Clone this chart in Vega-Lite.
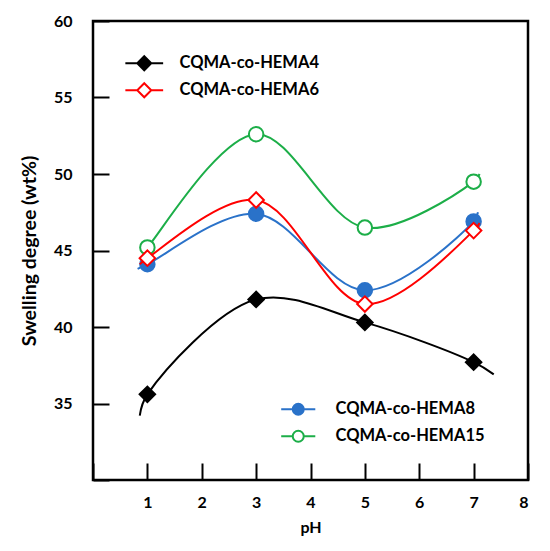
{
  "$schema": "https://vega.github.io/schema/vega-lite/v6.json",
  "width": 435,
  "height": 459,
  "autosize": {"type": "none"},
  "padding": {"left": 93, "top": 21, "right": 22, "bottom": 71},
  "background": "white",
  "datasets": {
    "measured": [
      {"series": "CQMA-co-HEMA4", "pH": 1, "swelling": 35.6},
      {"series": "CQMA-co-HEMA4", "pH": 3, "swelling": 41.8},
      {"series": "CQMA-co-HEMA4", "pH": 5, "swelling": 40.3},
      {"series": "CQMA-co-HEMA4", "pH": 7, "swelling": 37.7},
      {"series": "CQMA-co-HEMA6", "pH": 1, "swelling": 44.5},
      {"series": "CQMA-co-HEMA6", "pH": 3, "swelling": 48.3},
      {"series": "CQMA-co-HEMA6", "pH": 5, "swelling": 41.5},
      {"series": "CQMA-co-HEMA6", "pH": 7, "swelling": 46.3},
      {"series": "CQMA-co-HEMA8", "pH": 1, "swelling": 44.1},
      {"series": "CQMA-co-HEMA8", "pH": 3, "swelling": 47.4},
      {"series": "CQMA-co-HEMA8", "pH": 5, "swelling": 42.4},
      {"series": "CQMA-co-HEMA8", "pH": 7, "swelling": 46.9},
      {"series": "CQMA-co-HEMA15", "pH": 1, "swelling": 45.2},
      {"series": "CQMA-co-HEMA15", "pH": 3, "swelling": 52.6},
      {"series": "CQMA-co-HEMA15", "pH": 5, "swelling": 46.5},
      {"series": "CQMA-co-HEMA15", "pH": 7, "swelling": 49.5}
    ],
    "curve": [
      {"series": "CQMA-co-HEMA4", "pH": 0.86, "swelling": 34.2},
      {"series": "CQMA-co-HEMA4", "pH": 1, "swelling": 35.6},
      {"series": "CQMA-co-HEMA4", "pH": 3, "swelling": 41.8},
      {"series": "CQMA-co-HEMA4", "pH": 5, "swelling": 40.3},
      {"series": "CQMA-co-HEMA4", "pH": 7, "swelling": 37.7},
      {"series": "CQMA-co-HEMA4", "pH": 7.37, "swelling": 36.9},
      {"series": "CQMA-co-HEMA6", "pH": 0.86, "swelling": 44.1},
      {"series": "CQMA-co-HEMA6", "pH": 1, "swelling": 44.5},
      {"series": "CQMA-co-HEMA6", "pH": 3, "swelling": 48.3},
      {"series": "CQMA-co-HEMA6", "pH": 5, "swelling": 41.5},
      {"series": "CQMA-co-HEMA6", "pH": 7, "swelling": 46.3},
      {"series": "CQMA-co-HEMA6", "pH": 7.11, "swelling": 46.8},
      {"series": "CQMA-co-HEMA8", "pH": 0.82, "swelling": 43.8},
      {"series": "CQMA-co-HEMA8", "pH": 1, "swelling": 44.1},
      {"series": "CQMA-co-HEMA8", "pH": 3, "swelling": 47.4},
      {"series": "CQMA-co-HEMA8", "pH": 5, "swelling": 42.4},
      {"series": "CQMA-co-HEMA8", "pH": 7, "swelling": 46.9},
      {"series": "CQMA-co-HEMA8", "pH": 7.08, "swelling": 47.5},
      {"series": "CQMA-co-HEMA15", "pH": 0.92, "swelling": 44.9},
      {"series": "CQMA-co-HEMA15", "pH": 1, "swelling": 45.2},
      {"series": "CQMA-co-HEMA15", "pH": 3, "swelling": 52.6},
      {"series": "CQMA-co-HEMA15", "pH": 5, "swelling": 46.5},
      {"series": "CQMA-co-HEMA15", "pH": 7, "swelling": 49.5},
      {"series": "CQMA-co-HEMA15", "pH": 7.11, "swelling": 50.0}
    ]
  },
  "config": {
    "view": {"stroke": "black", "strokeWidth": 2.5},
    "axis": {
      "grid": false,
      "domain": false,
      "labelFont": "Lato",
      "labelFontWeight": "bold",
      "labelFontSize": 16,
      "labelColor": "black",
      "titleFont": "Lato",
      "titleFontWeight": "bold",
      "titleColor": "black",
      "tickColor": "black",
      "tickWidth": 2
    },
    "legend": {
      "labelFont": "Lato",
      "labelFontWeight": "bold",
      "labelFontSize": 16.5,
      "labelColor": "black",
      "padding": 0,
      "symbolStrokeWidth": 2,
      "symbolOpacity": 1
    }
  },
  "encoding": {
    "x": {
      "field": "pH",
      "type": "quantitative",
      "scale": {"domain": [0, 8], "nice": false, "zero": false},
      "axis": {
        "title": "pH",
        "titleFontSize": 16,
        "values": [0, 1, 2, 3, 4, 5, 6, 7, 8],
        "labelExpr": "datum.value == 0 ? '' : datum.label",
        "tickSize": -17,
        "labelPadding": 31,
        "titlePadding": 9
      }
    },
    "y": {
      "field": "swelling",
      "type": "quantitative",
      "scale": {"domain": [30, 60], "nice": false, "zero": false},
      "axis": {
        "title": "Swelling degree (wt%)",
        "titleFontSize": 19.5,
        "values": [30, 35, 40, 45, 50, 55, 60],
        "labelExpr": "datum.value == 30 ? '' : datum.label",
        "tickSize": -16,
        "labelPadding": 37,
        "titlePadding": 14
      }
    }
  },
  "resolve": {
    "scale": {"stroke": "independent", "fill": "independent"},
    "legend": {"stroke": "independent", "fill": "independent"}
  },
  "layer": [
    {
      "layer": [
        {
          "data": {"name": "curve"},
          "transform": [{"filter": {"field": "series", "oneOf": ["CQMA-co-HEMA8", "CQMA-co-HEMA15"]}}],
          "mark": {"type": "line", "interpolate": "catmull-rom", "strokeWidth": 2},
          "encoding": {
            "stroke": {
              "field": "series", "type": "nominal",
              "scale": {"domain": ["CQMA-co-HEMA8", "CQMA-co-HEMA15"], "range": ["#2a72c9", "#1cae48"]},
              "legend": {"orient": "none", "legendX": 197, "legendY": 380, "title": null, "symbolType": "M-3.1,0H-1M1,0H3.1M1,0A1,1,0,1,1,-1,0A1,1,0,1,1,1,0Z", "symbolSize": 121, "labelOffset": 29, "rowPadding": 7}
            }
          }
        },
        {
          "data": {"name": "measured"},
          "transform": [{"filter": {"field": "series", "oneOf": ["CQMA-co-HEMA8", "CQMA-co-HEMA15"]}}],
          "mark": {"type": "point", "shape": "circle", "size": 210, "strokeWidth": 2, "filled": true, "opacity": 1},
          "encoding": {
            "stroke": {
              "field": "series", "type": "nominal",
              "scale": {"domain": ["CQMA-co-HEMA8", "CQMA-co-HEMA15"], "range": ["#2a72c9", "#1cae48"]},
              "legend": {"orient": "none", "legendX": 197, "legendY": 380, "title": null, "symbolType": "M-3.1,0H-1M1,0H3.1M1,0A1,1,0,1,1,-1,0A1,1,0,1,1,1,0Z", "symbolSize": 121, "labelOffset": 29, "rowPadding": 7}
            },
            "fill": {
              "field": "series", "type": "nominal",
              "scale": {"domain": ["CQMA-co-HEMA8", "CQMA-co-HEMA15"], "range": ["#2a72c9", "white"]},
              "legend": {"orient": "none", "legendX": 197, "legendY": 380, "title": null, "symbolType": "M-3.1,0H-1M1,0H3.1M1,0A1,1,0,1,1,-1,0A1,1,0,1,1,1,0Z", "symbolSize": 121, "labelOffset": 29, "rowPadding": 7}
            }
          }
        }
      ]
    },
    {
      "layer": [
        {
          "data": {"name": "curve"},
          "transform": [{"filter": {"field": "series", "oneOf": ["CQMA-co-HEMA4", "CQMA-co-HEMA6"]}}],
          "mark": {"type": "line", "interpolate": "catmull-rom", "strokeWidth": 2},
          "encoding": {
            "stroke": {
              "field": "series", "type": "nominal",
              "scale": {"domain": ["CQMA-co-HEMA4", "CQMA-co-HEMA6"], "range": ["black", "#ff0000"]},
              "legend": {"orient": "none", "legendX": 43, "legendY": 34, "title": null, "symbolType": "M-2.7,0H-1M1,0H2.7M0,-1L1,0L0,1L-1,0Z", "symbolSize": 196, "labelOffset": 27, "rowPadding": 4}
            }
          }
        },
        {
          "data": {"name": "measured"},
          "transform": [{"filter": {"field": "series", "oneOf": ["CQMA-co-HEMA4", "CQMA-co-HEMA6"]}}],
          "mark": {"type": "point", "shape": "diamond", "size": 240, "strokeWidth": 2, "filled": true, "opacity": 1},
          "encoding": {
            "stroke": {
              "field": "series", "type": "nominal",
              "scale": {"domain": ["CQMA-co-HEMA4", "CQMA-co-HEMA6"], "range": ["black", "#ff0000"]},
              "legend": {"orient": "none", "legendX": 43, "legendY": 34, "title": null, "symbolType": "M-2.7,0H-1M1,0H2.7M0,-1L1,0L0,1L-1,0Z", "symbolSize": 196, "labelOffset": 27, "rowPadding": 4}
            },
            "fill": {
              "field": "series", "type": "nominal",
              "scale": {"domain": ["CQMA-co-HEMA4", "CQMA-co-HEMA6"], "range": ["black", "white"]},
              "legend": {"orient": "none", "legendX": 43, "legendY": 34, "title": null, "symbolType": "M-2.7,0H-1M1,0H2.7M0,-1L1,0L0,1L-1,0Z", "symbolSize": 196, "labelOffset": 27, "rowPadding": 4}
            }
          }
        }
      ]
    }
  ]
}
